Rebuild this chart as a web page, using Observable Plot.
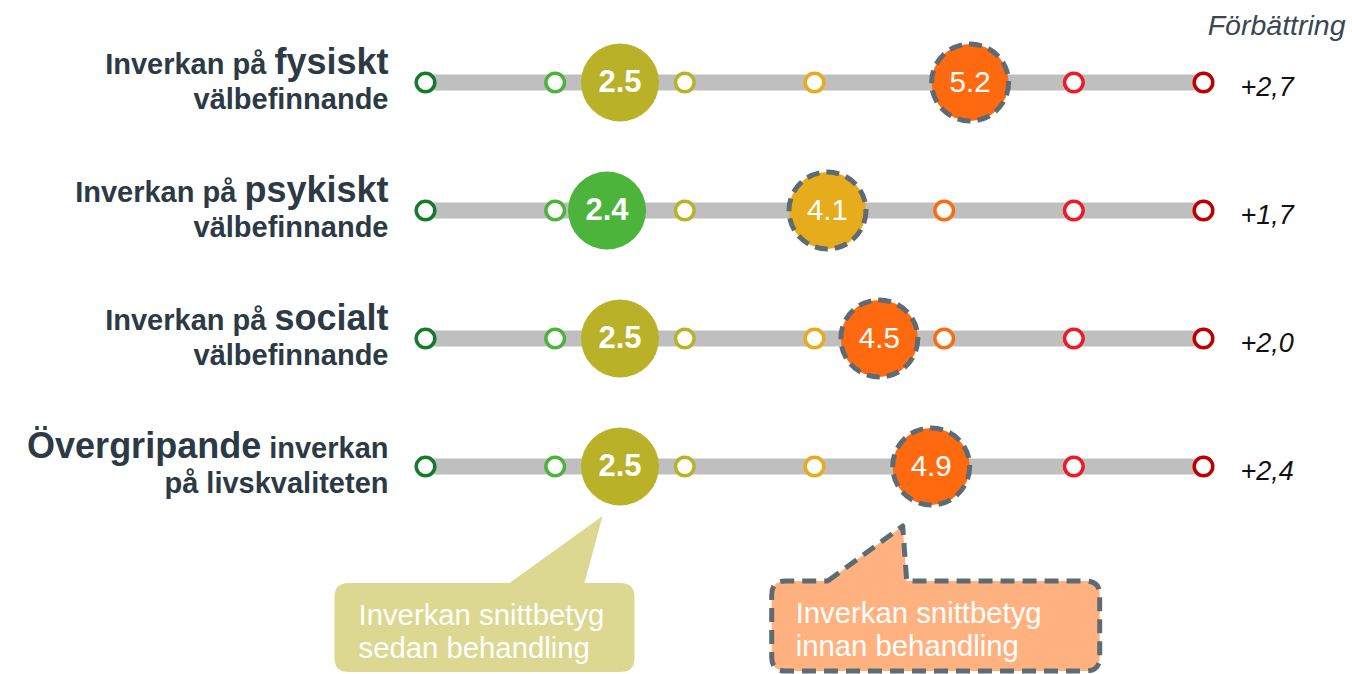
<!DOCTYPE html>
<html><head><meta charset="utf-8">
<script src="https://cdn.jsdelivr.net/npm/d3@7"></script>
<script src="https://cdn.jsdelivr.net/npm/@observablehq/plot@0.6"></script>
<style>
html,body{margin:0;padding:0;background:#fff;overflow:hidden;}
</style></head><body><div id="chart"></div>
<script>
// ---- data ----
const rows = ["fysiskt", "psykiskt", "socialt", "övergripande"];
const labelLine1 = ["Inverkan på *fysiskt*", "Inverkan på *psykiskt*", "Inverkan på *socialt*", "*Övergripande* inverkan"];
const labelLine2 = ["välbefinnande", "välbefinnande", "välbefinnande", "på livskvaliteten"];
const scoreAfter = [2.5, 2.4, 2.5, 2.5];
const scoreBefore = [5.2, 4.1, 4.5, 4.9];
const improvement = ["+2,7", "+1,7", "+2,0", "+2,4"];
const improvementTitle = "Förbättring";
const levels = [1, 2, 3, 4, 5, 6, 7];
const levelColors = ["#17792a", "#4cb43a", "#b9b229", "#e6ac1b", "#ff6a10", "#ef1b24", "#c00000"];
const calloutAfterText = ["Inverkan snittbetyg", "sedan behandling"];
const calloutBeforeText = ["Inverkan snittbetyg", "innan behandling"];

// ---- tables built from arrays ----
const data = rows.map((row, i) => ({
  row, line1: labelLine1[i], line2: labelLine2[i],
  after: scoreAfter[i], before: scoreBefore[i], imp: improvement[i]
}));
const ticks = rows.flatMap(row => levels.map(level => ({row, level})));

const font = "'Liberation Sans', Arial, Helvetica, sans-serif";
const labelColor = "#2c3a45";
const dashColor = "#5f6b73";

const plot = Plot.plot({
  width: 1352, height: 674,
  marginLeft: 425, marginRight: 149, marginTop: 81, marginBottom: 208,
  x: {domain: [d3.min(levels), d3.max(levels)], axis: null},
  y: {type: "point", domain: rows, padding: 0, axis: null},
  color: {type: "ordinal", domain: levels, range: levelColors},
  style: {fontFamily: font, background: "#fff", overflow: "visible"},
  marks: [
    Plot.ruleY(data, {y: "row", x1: d3.min(levels), x2: d3.max(levels), stroke: "#bfbfbf", strokeWidth: 16}),
    Plot.dot(ticks, {x: "level", y: "row", r: 9.3, stroke: "level", strokeWidth: 3.5, fill: "white"}),
    Plot.dot(data, {x: "before", y: "row", r: 38.5, fill: d => Math.round(d.before), stroke: dashColor, strokeWidth: 5, strokeDasharray: "13,7"}),
    Plot.dot(data, {x: "after", y: "row", r: 39, fill: d => Math.round(d.after)}),
    Plot.text(data, {x: "before", y: "row", text: d => d.before.toFixed(1), fill: "white", fontSize: 29.5}),
    Plot.text(data, {x: "after", y: "row", text: d => d.after.toFixed(1), fill: "white", fontSize: 31, fontWeight: "bold"}),
    Plot.text(data, {y: "row", frameAnchor: "left", text: "line1", textAnchor: "end", lineAnchor: "bottom", dx: -37, dy: -9, fontSize: 29, fontWeight: "bold", fill: labelColor}),
    Plot.text(data, {y: "row", frameAnchor: "left", text: "line2", textAnchor: "end", lineAnchor: "bottom", dx: -37, dy: 26, fontSize: 29, fontWeight: "bold", fill: labelColor}),
    Plot.text(data, {y: "row", frameAnchor: "right", text: "imp", textAnchor: "start", dx: 37, dy: 5, fontSize: 27, fontStyle: "italic", fill: "#111"}),
    Plot.text([improvementTitle], {frameAnchor: "top-right", text: d => d, textAnchor: "end", lineAnchor: "bottom", dx: 142, dy: -47, fontSize: 28.5, fontStyle: "italic", fill: "#3c4650"})
  ]
});

document.getElementById("chart").appendChild(plot);

// emphasised words in the row labels
d3.select(plot).selectAll("text").each(function () {
  const t = this.textContent;
  if (!t.includes("*")) return;
  const sel = d3.select(this).style("white-space", "pre");
  sel.text(null);
  t.split("*").forEach((p, i) => {
    if (!p) return;
    sel.append("tspan").attr("font-size", i % 2 ? 36 : 29).text(p);
  });
});

// callouts anchored to the last row's circles
const xs = plot.scale("x"), ys = plot.scale("y");
const last = data[data.length - 1];
const callouts = [
  {value: last.after, lines: calloutAfterText, fill: "#ddd891", dashed: false,
   tipDx: -17, tipDy: 50, boxL: -268, boxR: 32, boxTop: 67, boxBottom: 156, baseL: -93, baseR: -18},
  {value: last.before, lines: calloutBeforeText, fill: "#ffb27f", dashed: true,
   tipDx: -28, tipDy: 60, boxL: -131, boxR: 197, boxTop: 55, boxBottom: 145, baseL: -75, baseR: 4}
];
const svg = d3.select(plot);
const g = svg.append("g").attr("text-anchor", "start");
callouts.forEach(c => {
  const tx = xs.apply(c.value) + c.tipDx, ty = ys.apply(last.row) + c.tipDy;
  const L = tx + c.boxL, R = tx + c.boxR, T = ty + c.boxTop, B = ty + c.boxBottom, r = 14;
  const p = d3.path();
  p.moveTo(tx + c.baseL, T);
  p.lineTo(tx, ty);
  p.lineTo(tx + c.baseR, T);
  p.lineTo(R - r, T);
  p.quadraticCurveTo(R, T, R, T + r);
  p.lineTo(R, B - r);
  p.quadraticCurveTo(R, B, R - r, B);
  p.lineTo(L + r, B);
  p.quadraticCurveTo(L, B, L, B - r);
  p.lineTo(L, T + r);
  p.quadraticCurveTo(L, T, L + r, T);
  p.closePath();
  const path = g.append("path").attr("d", p.toString()).attr("fill", c.fill);
  if (c.dashed) path.attr("stroke", dashColor).attr("stroke-width", 5).attr("stroke-dasharray", "14,8").attr("stroke-linejoin", "round");
  c.lines.forEach((line, i) => {
    g.append("text").attr("x", L + 24).attr("y", T + 42 + i * 33)
      .attr("text-anchor", "start")
      .attr("fill", "white").attr("font-size", 29.3).attr("font-family", font).text(line);
  });
});
</script>
</body></html>
